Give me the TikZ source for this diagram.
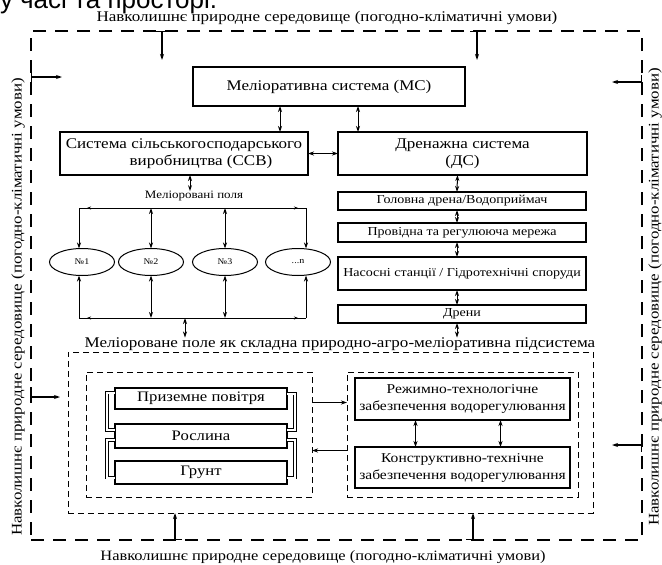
\documentclass[tikz,border=0pt]{standalone}
\usepackage{fontspec}
\setmainfont{Liberation Serif}[FakeStretch=1.15]
\newfontfamily\slidefont{Liberation Sans}
\usetikzlibrary{arrows.meta, shapes.geometric}
\newcommand{\sz}[2]{\fontsize{#1}{#2}\selectfont}

\tikzset{
  box/.style={rectangle, draw=black, line width=1.4pt, align=center},
  field/.style={ellipse, draw=black, line width=1pt, minimum width=65pt, minimum height=27pt, font=\sz{8.7}{10}},
  border/.style={draw=black, line width=2pt, dash pattern=on 13pt off 9pt},
  subborder/.style={draw=black, line width=0.9pt, dash pattern=on 6pt off 4pt},
  inflow/.style={{Bar[width=14pt]}->, line width=1.3pt},
  bracket/.style={draw=black, double=white, double distance=2pt, line width=0.6pt}
}

\begin{document}
\begin{tikzpicture}[x=1pt, y=-1pt, inner sep=0, outer sep=0, line width=1pt,
    >={Stealth[length=6pt, width=4pt]}]
  \useasboundingbox (0,0) rectangle (662,565);
  \node[anchor=base west, font=\slidefont\sz{26}{30}] (title) at (0,8) {у часі та просторі.};

  % surroundings
  \node[border, minimum width=611pt, minimum height=509pt] (nature) at (336.5,285.5) {};
  \node[font=\sz{14.8}{17}] (ntop) at (327,18) {Навколишнє природне середовище (погодно-кліматичні умови)};
  \node[font=\sz{14.3}{17}] (nbot) at (323,557) {Навколишнє природне середовище (погодно-кліматичні умови)};
  \node[font=\sz{14.7}{17}, rotate=90] (nleft) at (18,307) {Навколишнє природне середовище (погодно-кліматичні умови)};
  \node[font=\sz{14.7}{17}, rotate=90] (nright) at (655,297) {Навколишнє природне середовище (погодно-кліматичні умови)};

  \node[box, minimum width=272pt, minimum height=39pt, font=\sz{14.8}{17}] (ms) at (329,86.5) {Меліоративна система (МС)};
  \node[box, minimum width=248pt, minimum height=43pt, font=\sz{14.8}{17}] (ssv) at (184,153.5)
    {Система сільськогосподарського\\\hspace*{34pt}виробництва (ССВ)};
  \node[box, minimum width=249pt, minimum height=43pt, font=\sz{14.8}{17}] (ds) at (462.5,153.5) {Дренажна система\\(ДС)};
  \draw[<->] ([xshift=-49pt]ms.south) -- ([xshift=-49pt]ms.south |- ssv.north);
  \draw[<->] ([xshift=29pt]ms.south) -- ([xshift=29pt]ms.south |- ds.north);
  \draw[<->] (ssv.east) -- (ssv.east -| ds.west);

  % fields
  \node[font=\sz{11.3}{13}] (polya) at (194,196) {Меліоровані поля};
  \draw[<->] ([xshift=6pt]ssv.south) -- ([xshift=6pt]ssv.south |- polya.north);
  \node[field] (p1) at (82,262) {№1};
  \node[field] (p2) at (151,262) {№2};
  \node[field] (p3) at (225,262) {№3};
  \node[field] (pn) at (298,262) {...n};
  \coordinate (tl) at (79,208);
  \coordinate (tr) at (306,208);
  \coordinate (bl) at (79,318);
  \coordinate (br) at (306,318);
  \draw (tl) -- (tr);
  \draw (bl) -- (br);
  \draw[<->, >={Stealth[length=4pt, width=3pt]}] ([xshift=8pt]tl) -- ([xshift=-8pt]tr);
  \draw[<->, >={Stealth[length=4pt, width=3pt]}] ([xshift=8pt]bl) -- ([xshift=-8pt]br);
  \draw[->] (tl) -- (tl |- p1.north);
  \draw[->] (tr) -- (tr |- pn.north);
  \draw[->] (bl) -- (bl |- p1.south);
  \draw[->] (br) -- (br |- pn.south);
  \draw[<->] (p2.north |- tl) -- (p2.north);
  \draw[<->] (p3.north |- tl) -- (p3.north);
  \draw[<->] (p2.south) -- (p2.south |- bl);
  \draw[<->] (p3.south) -- (p3.south |- bl);

  % drainage parts
  \node[box, minimum width=248pt, minimum height=18pt, font=\sz{12.2}{14}] (hd) at (462,201) {Головна дрена/Водоприймач};
  \node[box, minimum width=248pt, minimum height=19pt, font=\sz{12.2}{14}] (pm) at (462,232.5) {Провідна та регулююча мережа};
  \node[box, minimum width=248pt, minimum height=33pt, font=\sz{12.2}{14}] (ns) at (462,273.5) {Насосні станції / Гідротехнічні споруди};
  \node[box, minimum width=248pt, minimum height=18pt, font=\sz{12.2}{14}] (dr) at (462,314) {Дрени};
  \draw[<->] ([xshift=-5pt]ds.south) -- ([xshift=-5pt]hd.north);
  \draw[<->] ([xshift=-5pt]hd.south) -- ([xshift=-5pt]pm.north);
  \draw[<->] ([xshift=-5pt]pm.south) -- ([xshift=-5pt]ns.north);
  \draw[<->] ([xshift=-5pt]ns.south) -- ([xshift=-5pt]dr.north);

  % subsystem
  \node[font=\sz{14.8}{17}] (mpole) at (340,344) {Меліороване поле як складна природно-агро-меліоративна підсистема};
  \node[subborder, minimum width=525pt, minimum height=161pt] (pole) at (330.5,432.5) {};
  \node[subborder, minimum width=226pt, minimum height=125pt] (agro) at (199,434.5) {};
  \node[subborder, minimum width=231pt, minimum height=125pt] (vodo) at (462.5,434.5) {};
  \coordinate (bm) at (185,318);
  \draw[<->] (bm) -- (bm |- mpole.north);
  \draw[<->] ([xshift=-5pt]dr.south) -- ([xshift=-5pt]dr.south |- mpole.north);

  \node[box, minimum width=172pt, minimum height=21pt, font=\sz{14.5}{17}] (pp) at (201,398.5) {Приземне повітря};
  \node[box, minimum width=172pt, minimum height=24pt, font=\sz{14.5}{17}] (rs) at (201,436) {Рослина};
  \node[box, minimum width=172pt, minimum height=23pt, font=\sz{14.5}{17}] (gr) at (201,472.5) {Грунт};
  \draw[bracket] ([yshift=6pt]pp.west) -- ++(-8,0) |- ([yshift=6pt]rs.west);
  \draw[bracket] ([yshift=-4pt]rs.west) -- ++(-8,0) |- ([yshift=-5pt]gr.west);
  \draw[bracket] ([yshift=5pt]pp.east) -- ++(8,0) |- ([yshift=6pt]rs.east);
  \draw[bracket] ([yshift=-4pt]rs.east) -- ++(8,0) |- ([yshift=-5pt]gr.east);

  \node[box, minimum width=215pt, minimum height=42pt, font=\sz{13.5}{17}] (rt) at (462.5,399)
    {Режимно-технологічне\\забезпечення водорегулювання};
  \node[box, minimum width=215pt, minimum height=41pt, font=\sz{13.5}{17}] (kt) at (462.5,467.5)
    {Конструктивно-технічне\\забезпечення водорегулювання};
  \draw[<->] ([xshift=-47pt]rt.south) -- ([xshift=-47pt]kt.north);
  \draw[<->] ([xshift=38pt]rt.south) -- ([xshift=38pt]kt.north);
  \draw[->] ([yshift=32pt]agro.east) -- ([yshift=32pt]vodo.west);
  \draw[->] ([yshift=-16pt]vodo.west) -- ([yshift=-16pt]agro.east);

  % inflows from the surroundings
  \coordinate (in1) at (162,60);
  \coordinate (in2) at (477,60);
  \coordinate (in3) at (62,77);
  \coordinate (in4) at (612,82);
  \coordinate (in5) at (60,397);
  \coordinate (in6) at (612,445);
  \coordinate (up1) at (175,513);
  \coordinate (up2) at (473,513);
  \draw[inflow] (nature.north -| in1) -- (in1);
  \draw[inflow] (nature.north -| in2) -- (in2);
  \draw[inflow] (nature.west |- in3) -- (in3);
  \draw[inflow] (nature.east |- in4) -- (in4);
  \draw[inflow] (nature.east |- in6) -- (in6);
  \draw[->, line width=1.3pt] (nature.west |- in5) ++(0,-10) -- (nature.west |- in5) -- (in5);
  \draw[inflow] (nature.south -| up1) -- (up1);
  \draw[inflow] (nature.south -| up2) -- (up2);
\end{tikzpicture}
\end{document}
